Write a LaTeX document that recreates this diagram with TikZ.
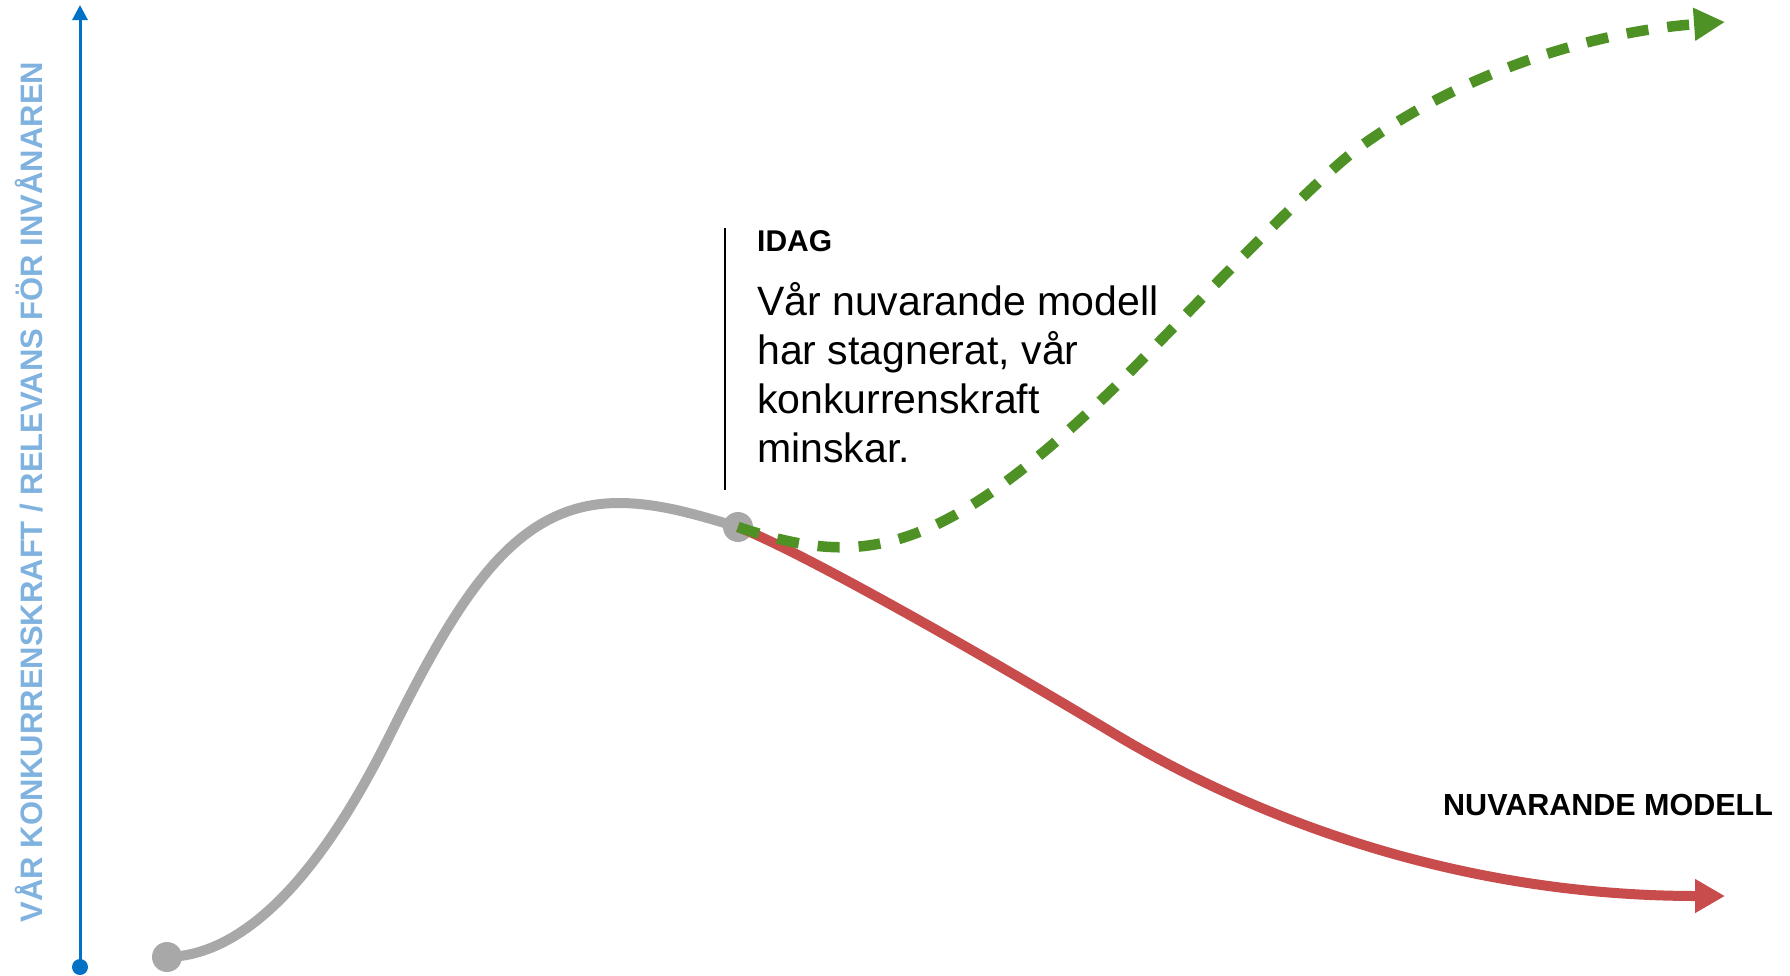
\documentclass[tikz,border=0pt]{standalone}
\usepackage{fontspec}
\setmainfont{Liberation Sans}
\usetikzlibrary{arrows.meta}
\definecolor{axisblue}{RGB}{0,114,198}
\definecolor{labelblue}{RGB}{128,178,224}
\definecolor{curvegray}{RGB}{168,168,168}
\definecolor{curvered}{RGB}{200,76,76}
\definecolor{curvegreen}{RGB}{78,146,38}
\tikzset{
  graydot/.style={circle,fill=curvegray,inner sep=0pt,minimum size=30pt},
  bluedot/.style={circle,fill=axisblue,inner sep=0pt,minimum size=16pt},
  axisline/.style={draw=axisblue,line width=3pt,-{Triangle[length=15pt,width=15pt]}},
  graycurve/.style={draw=curvegray,line width=10pt},
  redcurve/.style={draw=curvered,line width=10pt,-{Triangle[length=30pt,width=32pt]}},
  greencurve/.style={draw=curvegreen,line width=10.5pt,dash pattern=on 22pt off 19pt,-{Triangle[length=31pt,width=31pt]}},
  axislabel/.style={text=labelblue,font=\bfseries\fontsize{31}{31}\selectfont,inner sep=0pt,anchor=base,rotate=90},
  headtext/.style={font=\bfseries\fontsize{30}{30}\selectfont,inner sep=0pt,anchor=base west},
  bodytext/.style={font=\fontsize{41}{49}\selectfont,inner sep=0pt,anchor=base west},
  marker/.style={draw=black,line width=2.5pt}
}
\begin{document}
\begin{tikzpicture}[x=1pt,y=-1pt]
\useasboundingbox (0,0) rectangle (1790,975);
% axis
\node[bluedot] (ax0) at (80,967) {};
\coordinate (ax1) at (80,5);
\draw[axisline] (ax0.center) -- (ax1);
\node[axislabel] (ylabel) at (42,492) {VÅR KONKURRENSKRAFT / RELEVANS FÖR INVÅNAREN};
% gray curve
\node[graydot] (s) at (167,957) {};
\coordinate (i1) at (394,727);
\coordinate (m) at (619,503);
\node[graydot] (t) at (738,527) {};
\draw[graycurve] (s.center) .. controls (280,955) and (364,787) .. (i1)
  .. controls (464,587) and (519,503) .. (m)
  .. controls (659,503) and (698,515) .. (t.center);
% red curve
\coordinate (j) at (1113,733);
\coordinate (redend) at (1725,896);
\draw[redcurve] (t.center) .. controls (799,551) and (963,643) .. (j)
  .. controls (1273,829) and (1475,896) .. (redend);
% green curve
\coordinate (k) at (1116,386);
\coordinate (l) at (1361,146);
\coordinate (greenend) at (1725,22);
\draw[greencurve] (t.center) .. controls (859,567) and (936,561) .. (k)
  .. controls (1176,326) and (1311,182) .. (l)
  .. controls (1471,67) and (1602,31) .. (greenend);
% marker line and texts
\coordinate (mk0) at (725,228);
\coordinate (mk1) at (725,490);
\draw[marker] (mk0) -- (mk1);
\node[headtext] (idag) at (757,251) {IDAG};
\node[bodytext] (b1) at (757,315) {Vår nuvarande modell};
\node[bodytext] (b2) at (757,364) {har stagnerat, vår};
\node[bodytext] (b3) at (757,413) {konkurrenskraft};
\node[bodytext] (b4) at (757,462) {minskar.};
\node[headtext,font=\bfseries\fontsize{30.5}{30.5}\selectfont] (nm) at (1443,815) {NUVARANDE MODELL};
\end{tikzpicture}
\end{document}
